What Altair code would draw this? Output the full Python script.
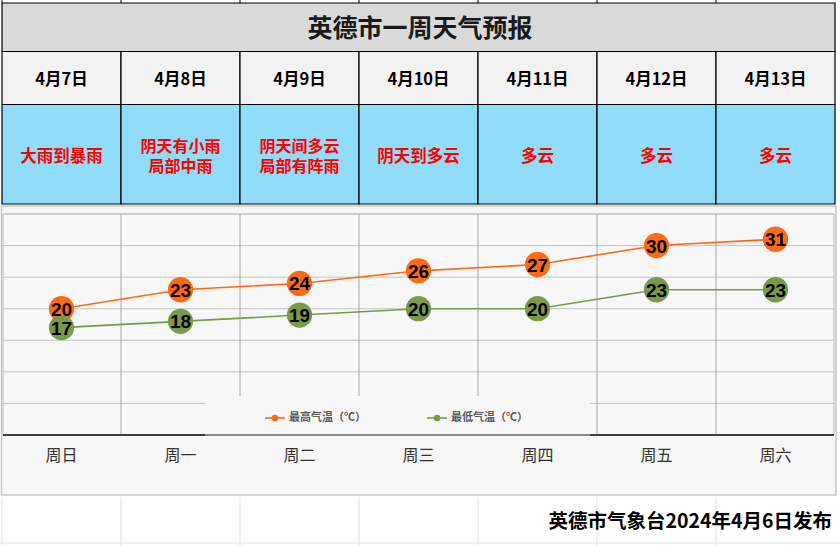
import altair as alt
import pandas as pd

# ---- data ----
days = ["4月7日", "4月8日", "4月9日", "4月10日", "4月11日", "4月12日", "4月13日"]
weekdays = ["周日", "周一", "周二", "周三", "周四", "周五", "周六"]
weather = ["大雨到暴雨", "阴天有小雨\n局部中雨", "阴天间多云\n局部有阵雨", "阴天到多云", "多云", "多云", "多云"]
high = [20, 23, 24, 26, 27, 30, 31]
low = [17, 18, 19, 20, 20, 23, 23]
series_names = ["最高气温（℃）", "最低气温（℃）"]
series_colors = ["#fd6a16", "#7a9a48"]
y_ticks = [0, 5, 10, 15, 20, 25, 30, 35]
title_text = "英德市一周天气预报"
footer_text = "英德市气象台2024年4月6日发布"

table = pd.DataFrame({"day": days, "weekday": weekdays, "weather": weather})
temps = pd.DataFrame({
    "day": days * 2,
    "temp": high + low,
    "series": [series_names[0]] * len(days) + [series_names[1]] * len(days),
})
grid_df = pd.DataFrame({"v": y_ticks})

CJK = "Noto Sans CJK SC"

xscale = alt.Scale(domain=days, range=[2, 835], paddingInner=0, paddingOuter=0)
yscale = alt.Scale(domain=[0, 35], range=[435, 214], nice=False, zero=False)
X = alt.X("day:N", scale=xscale, axis=None, sort=days)
Y = alt.Y("temp:Q", scale=yscale, axis=None)
color = alt.Color("series:N", scale=alt.Scale(domain=series_names, range=series_colors), legend=None)

tb = alt.Chart(table)
one = alt.Chart(pd.DataFrame({"a": [0]}))

# top strip (spreadsheet cells above the table)
top_lines = tb.mark_rule(color="#000000", strokeWidth=1).encode(
    x=alt.X("day:N", scale=xscale, axis=None, sort=days, bandPosition=0),
    y=alt.value(0), y2=alt.value(3))

# title row
title_bg = one.mark_rect(fill="#d9d9d9", stroke="#000000", strokeWidth=1.2).encode(
    x=alt.value(2), x2=alt.value(835), y=alt.value(3), y2=alt.value(51.5))
title = one.mark_text(font=CJK, fontSize=25, fontWeight="bold", color="#1a1a1a").encode(
    x=alt.value(420), y=alt.value(29), text=alt.value(title_text))

# date row
date_bg = tb.mark_rect(fill="#f2f2f2", stroke="#000000", strokeWidth=1.2).encode(
    x=X, y=alt.value(51.5), y2=alt.value(104.5))
date_txt = tb.mark_text(font=CJK, fontSize=16.5, fontWeight="bold", color="#000000").encode(
    x=X, y=alt.value(79.5), text="day:N")

# weather row
wx_bg = tb.mark_rect(fill="#91dcf8", stroke="#000000", strokeWidth=1.2).encode(
    x=X, y=alt.value(104.5), y2=alt.value(204))
wx_base = tb.transform_calculate(
    parts="split(datum.weather, '\\n')",
    n="length(datum.parts)",
    l1="datum.parts[0]",
    l2="datum.n > 1 ? datum.parts[1] : ''",
)
wx_one = wx_base.transform_filter("datum.n == 1").mark_text(
    font=CJK, fontSize=16.5, fontWeight="bold", color="#ff0000").encode(
    x=X, y=alt.value(156.5), text="l1:N")
wx_top = wx_base.transform_filter("datum.n > 1").mark_text(
    font=CJK, fontSize=16, fontWeight="bold", color="#ff0000").encode(
    x=X, y=alt.value(146.5), text="l1:N")
wx_bot = wx_base.transform_filter("datum.n > 1").mark_text(
    font=CJK, fontSize=16, fontWeight="bold", color="#ff0000").encode(
    x=X, y=alt.value(167), text="l2:N")

# chart area
chart_bg = one.mark_rect(fill="#f6f6f6", stroke="#c6c6c6", strokeWidth=1.5).encode(
    x=alt.value(1.5), x2=alt.value(836), y=alt.value(206), y2=alt.value(495))
plot_border = one.mark_rect(fill="#f7f7f7", stroke="#bdbdbd", strokeWidth=1).encode(
    x=alt.value(3), x2=alt.value(834), y=alt.value(214), y2=alt.value(435))

hgrid = alt.Chart(grid_df).mark_rule(color="#c4c4c4", strokeWidth=1).encode(
    y=alt.Y("v:Q", scale=yscale, axis=None), x=alt.value(3), x2=alt.value(834))
vgrid = alt.Chart(table.iloc[1:]).mark_rule(color="#a6a6a6", strokeWidth=1).encode(
    x=alt.X("day:N", scale=xscale, axis=None, sort=days, bandPosition=0),
    y=alt.value(214), y2=alt.value(435))

# legend box covering grid
legend_box = one.mark_rect(fill="#f7f7f7").encode(
    x=alt.value(205), x2=alt.value(590), y=alt.value(396), y2=alt.value(434))

axis_dark1 = one.mark_rule(color="#404040", strokeWidth=2).encode(
    x=alt.value(3), x2=alt.value(205), y=alt.value(435))
axis_mid = one.mark_rule(color="#8a8a8a", strokeWidth=2).encode(
    x=alt.value(205), x2=alt.value(590), y=alt.value(435))
axis_dark2 = one.mark_rule(color="#404040", strokeWidth=2).encode(
    x=alt.value(590), x2=alt.value(834), y=alt.value(435))

tc = alt.Chart(temps)
lines = tc.mark_line(strokeWidth=1.6).encode(x=X, y=Y, color=color, detail="series:N")
dots = tc.mark_circle(size=640, opacity=1).encode(x=X, y=Y, color=color)
labels = tc.mark_text(font="Liberation Sans", fontSize=19, fontWeight="bold", color="#000000",
                      baseline="middle", dy=1).encode(x=X, y=Y, text="temp:Q")

# legend (manual)
leg_df = pd.DataFrame({"series": series_names, "x0": [265, 427]})
leg = alt.Chart(leg_df)
lx = alt.Scale(domain=[0, 840], range=[0, 840])
leg_line = leg.mark_rule(strokeWidth=1.6).encode(
    x=alt.X("x0:Q", scale=lx, axis=None),
    x2=alt.X2("x2:Q"), y=alt.value(418), color=color).transform_calculate(x2="datum.x0 + 20")
leg_dot = leg.mark_circle(size=45, opacity=1).encode(
    x=alt.X("xc:Q", scale=lx, axis=None),
    y=alt.value(418), color=color).transform_calculate(xc="datum.x0 + 10")
leg_txt = leg.mark_text(font=CJK, fontSize=11, fontWeight="bold", color="#595959", align="left").encode(
    x=alt.X("xt:Q", scale=lx, axis=None),
    y=alt.value(418), text="series:N").transform_calculate(xt="datum.x0 + 24")

# weekday row
wk_txt = tb.mark_text(font=CJK, fontSize=16, color="#333333").encode(
    x=X, y=alt.value(456), text="weekday:N")

# footer
footer_lines = tb.mark_rule(color="#e3e3e3", strokeWidth=1).encode(
    x=alt.X("day:N", scale=xscale, axis=None, sort=days, bandPosition=0),
    y=alt.value(497), y2=alt.value(546))
footer_h = one.mark_rule(color="#e3e3e3", strokeWidth=1).encode(
    x=alt.value(0), x2=alt.value(840), y=alt.value(543))
footer = one.mark_text(font=CJK, fontSize=19.5, fontWeight="bold", color="#000000", align="right").encode(
    x=alt.value(832), y=alt.value(522), text=alt.value(footer_text))

chart = alt.layer(
    top_lines, footer_lines, footer_h,
    title_bg, title, date_bg, date_txt, wx_bg, wx_one, wx_top, wx_bot,
    chart_bg, plot_border, hgrid, vgrid, legend_box,
    axis_dark1, axis_mid, axis_dark2,
    lines, dots, labels,
    leg_line, leg_dot, leg_txt,
    wk_txt, footer,
).resolve_scale(x="independent").properties(
    width=840, height=546, background="#ffffff", padding=0,
    autosize=alt.AutoSizeParams(type="none"),
).configure_view(stroke=None)

chart.save("out.html", embed_options={"renderer": "svg", "actions": False})
